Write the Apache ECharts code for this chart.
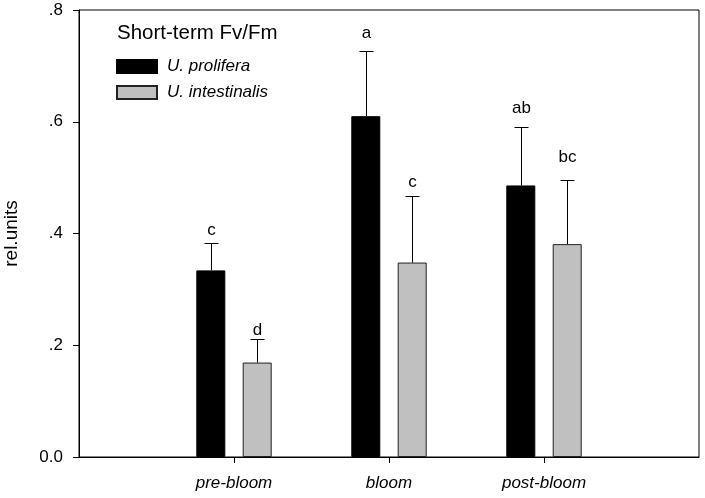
<!DOCTYPE html>
<html>
<head>
<meta charset="utf-8">
<script src="https://cdn.jsdelivr.net/npm/echarts@6/dist/echarts.min.js"></script>
<style>html,body{margin:0;padding:0;background:#fff;}#chart{width:705px;height:498px;}</style>
</head>
<body>
<div id="chart"></div>
<script>
// ---- data ----
const categories = ['pre-bloom', 'bloom', 'post-bloom'];
const seriesNames = ['U. prolifera', 'U. intestinalis'];
const prolifera = [0.334, 0.610, 0.486];
const proliferaErr = [0.049, 0.117, 0.105];
const proliferaLetters = ['c', 'a', 'ab'];
const proliferaLetterAt = [0.395, 0.749, 0.615];
const intestinalis = [0.169, 0.348, 0.381];
const intestinalisErr = [0.0425, 0.120, 0.114];
const intestinalisLetters = ['d', 'c', 'bc'];
const intestinalisLetterAt = [0.217, 0.4816, 0.526];
const yTicks = [0, 0.2, 0.4, 0.6, 0.8];

// ---- build ----
const FONT = 'Arial, "Liberation Sans", sans-serif';
const axisCats = [''].concat(categories, ['']);
const pad = arr => [null].concat(arr, [null]);
const BAR_W = 29;
const GAP_PCT = 0.6;
const OFFSET = (BAR_W + BAR_W * GAP_PCT) / 2;

function errSeries(vals, errs, letters, letterAt, sign) {
  return {
    type: 'custom',
    z: 5,
    silent: true,
    data: vals.map((v, i) => [i + 1, v, errs[i], letterAt[i]]),
    renderItem: function (params, api) {
      const x = api.value(0), v = api.value(1), e = api.value(2), la = api.value(3);
      const base = api.coord([x, v]);
      const top = api.coord([x, v + e]);
      const cx = Math.round(base[0] + sign * OFFSET) + 0.5;
      const ty = Math.round(top[1]) + 0.5;
      const ly = api.coord([x, la])[1];
      return {
        type: 'group',
        children: [
          { type: 'line', shape: { x1: cx, y1: base[1], x2: cx, y2: ty }, style: { stroke: '#000', lineWidth: 1 } },
          { type: 'line', shape: { x1: cx - 7, y1: ty, x2: cx + 7, y2: ty }, style: { stroke: '#000', lineWidth: 1 } },
          { type: 'text', style: { text: letters[params.dataIndex], x: cx, y: ly + 3, align: 'center', verticalAlign: 'bottom', fill: '#000', font: '17px ' + FONT } }
        ]
      };
    }
  };
}

const chart = echarts.init(document.getElementById('chart'), null, { renderer: 'canvas' });
chart.setOption({
  animation: false,
  backgroundColor: '#fff',
  title: {
    text: 'Short-term Fv/Fm',
    left: 112, top: 18,
    textStyle: { fontFamily: FONT, fontSize: 20.5, fontWeight: 'normal', color: '#000' }
  },
  legend: {
    orient: 'vertical',
    left: 111, top: 53,
    itemWidth: 40, itemHeight: 13, itemGap: 9,
    icon: 'rect',
    selectedMode: false,
    data: seriesNames,
    textStyle: { fontFamily: FONT, fontSize: 17, fontStyle: 'italic', color: '#000', padding: [0, 0, 0, 5] }
  },
  grid: { left: 79, right: 6, top: 10, bottom: 41, outerBoundsMode: 'none', containLabel: false,
    show: true, borderColor: '#000', borderWidth: 1, backgroundColor: 'transparent' },
  xAxis: {
    type: 'category',
    data: axisCats,
    boundaryGap: false,
    axisLine: { lineStyle: { color: '#000', width: 1 } },
    axisTick: { length: 6, lineStyle: { color: '#000' }, interval: (i, v) => v !== '' },
    axisLabel: { margin: 18, fontFamily: FONT, fontSize: 17, fontStyle: 'italic', color: '#000', interval: 0 },
    splitLine: { show: false }
  },
  yAxis: {
    type: 'value',
    min: yTicks[0], max: yTicks[yTicks.length - 1], interval: 0.2,
    name: 'rel.units',
    nameLocation: 'middle', nameRotate: 90, nameGap: 58,
    nameTextStyle: { fontFamily: FONT, fontSize: 19, color: '#000' },
    axisLine: { show: true, lineStyle: { color: '#000', width: 1 } },
    axisTick: { show: true, length: 6, lineStyle: { color: '#000' } },
    axisLabel: {
      margin: 16, fontFamily: FONT, fontSize: 17, color: '#000',
      formatter: v => v === 0 ? '0.0' : v.toFixed(1).replace(/^0\./, '.')
    },
    splitLine: { show: false }
  },
  series: [
    { name: seriesNames[0], type: 'bar', data: pad(prolifera), barWidth: BAR_W, barGap: (GAP_PCT * 100) + '%',
      itemStyle: { color: '#000', borderColor: '#000', borderWidth: 1 } },
    { name: seriesNames[1], type: 'bar', data: pad(intestinalis), barWidth: BAR_W, barGap: (GAP_PCT * 100) + '%',
      itemStyle: { color: '#c0c0c0', borderColor: '#222', borderWidth: 1 } },
    errSeries(prolifera, proliferaErr, proliferaLetters, proliferaLetterAt, -1),
    errSeries(intestinalis, intestinalisErr, intestinalisLetters, intestinalisLetterAt, 1)
  ]
});
</script>
</body>
</html>
